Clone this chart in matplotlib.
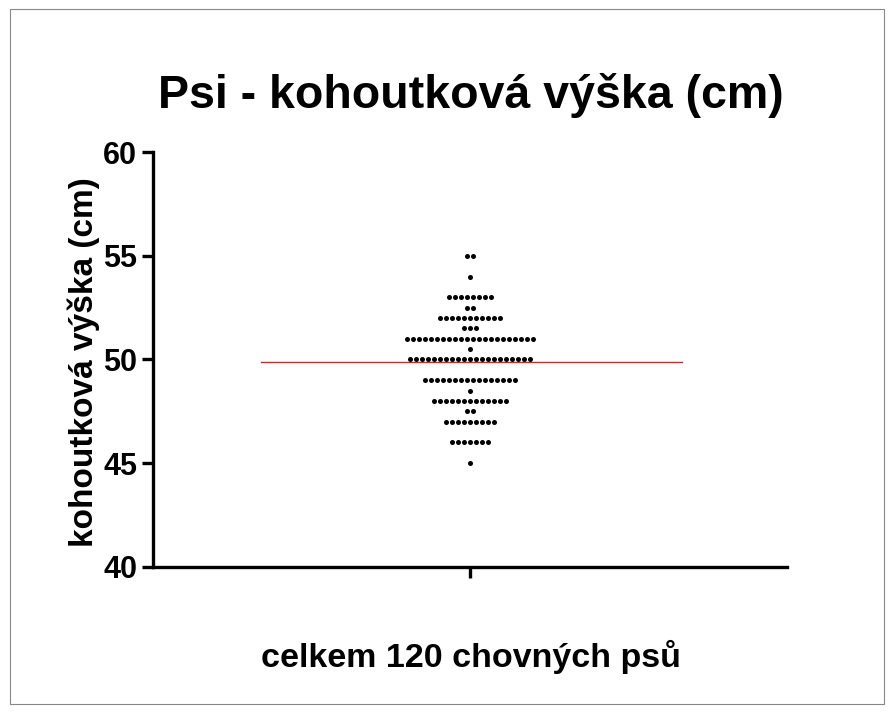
import numpy as np
import matplotlib
matplotlib.use('Agg')
import matplotlib.pyplot as plt
from matplotlib.patches import Rectangle

plt.rcParams['font.family'] = ['Liberation Sans', 'DejaVu Sans']

# heights (cm) and how many dogs have each height
heights = [55, 54, 53, 52.5, 52, 51.5, 51, 50.5, 50, 49, 48.5, 48, 47.5, 47, 46, 45]
counts = [2, 1, 8, 2, 11, 3, 22, 1, 21, 16, 1, 13, 2, 9, 7, 1]
yticks = [40, 45, 50, 55, 60]
title = 'Psi - kohoutková výška (cm)'
ylabel = 'kohoutková výška (cm)'
xlabel = 'celkem 120 chovných psů'

fig = plt.figure(figsize=(8.92, 7.13), dpi=100)
ax = fig.add_axes([0.1715, 0.2048, 0.7108, 0.582])

spacing = 0.019
xs, ys = [], []
for h, n in zip(heights, counts):
    for i in range(n):
        xs.append((i - (n - 1) / 2) * spacing)
        ys.append(h)
ax.scatter(xs, ys, s=13, color='black', zorder=3, linewidths=0)

mean = np.average(heights, weights=counts)
ax.plot([-0.66, 0.67], [mean, mean], color='#d62728', lw=1.0, zorder=2)

ax.set_xlim(-1, 1)
ax.set_ylim(40, 60)
ax.set_yticks(yticks)
ax.set_xticks([0])
ax.set_xticklabels([''])
for s in ['top', 'right']:
    ax.spines[s].set_visible(False)
for s in ['left', 'bottom']:
    ax.spines[s].set_linewidth(2.4)
ax.tick_params(axis='both', width=2.4, length=8, labelsize=22)
for lab in ax.get_yticklabels():
    lab.set_fontweight('bold')

fig.text(0.528, 0.866, title, ha='center', va='center', fontsize=33.5, fontweight='bold')
fig.text(0.094, 0.492, ylabel, ha='center', va='center', rotation=90, fontsize=24, fontweight='bold')
fig.text(0.528, 0.079, xlabel, ha='center', va='center', fontsize=24.5, fontweight='bold')

fig.patches.append(Rectangle((0.011, 0.012), 0.98, 0.976, transform=fig.transFigure,
                             fill=False, edgecolor='#888888', lw=0.8))

fig.savefig('out.png', dpi=100, facecolor='white')
